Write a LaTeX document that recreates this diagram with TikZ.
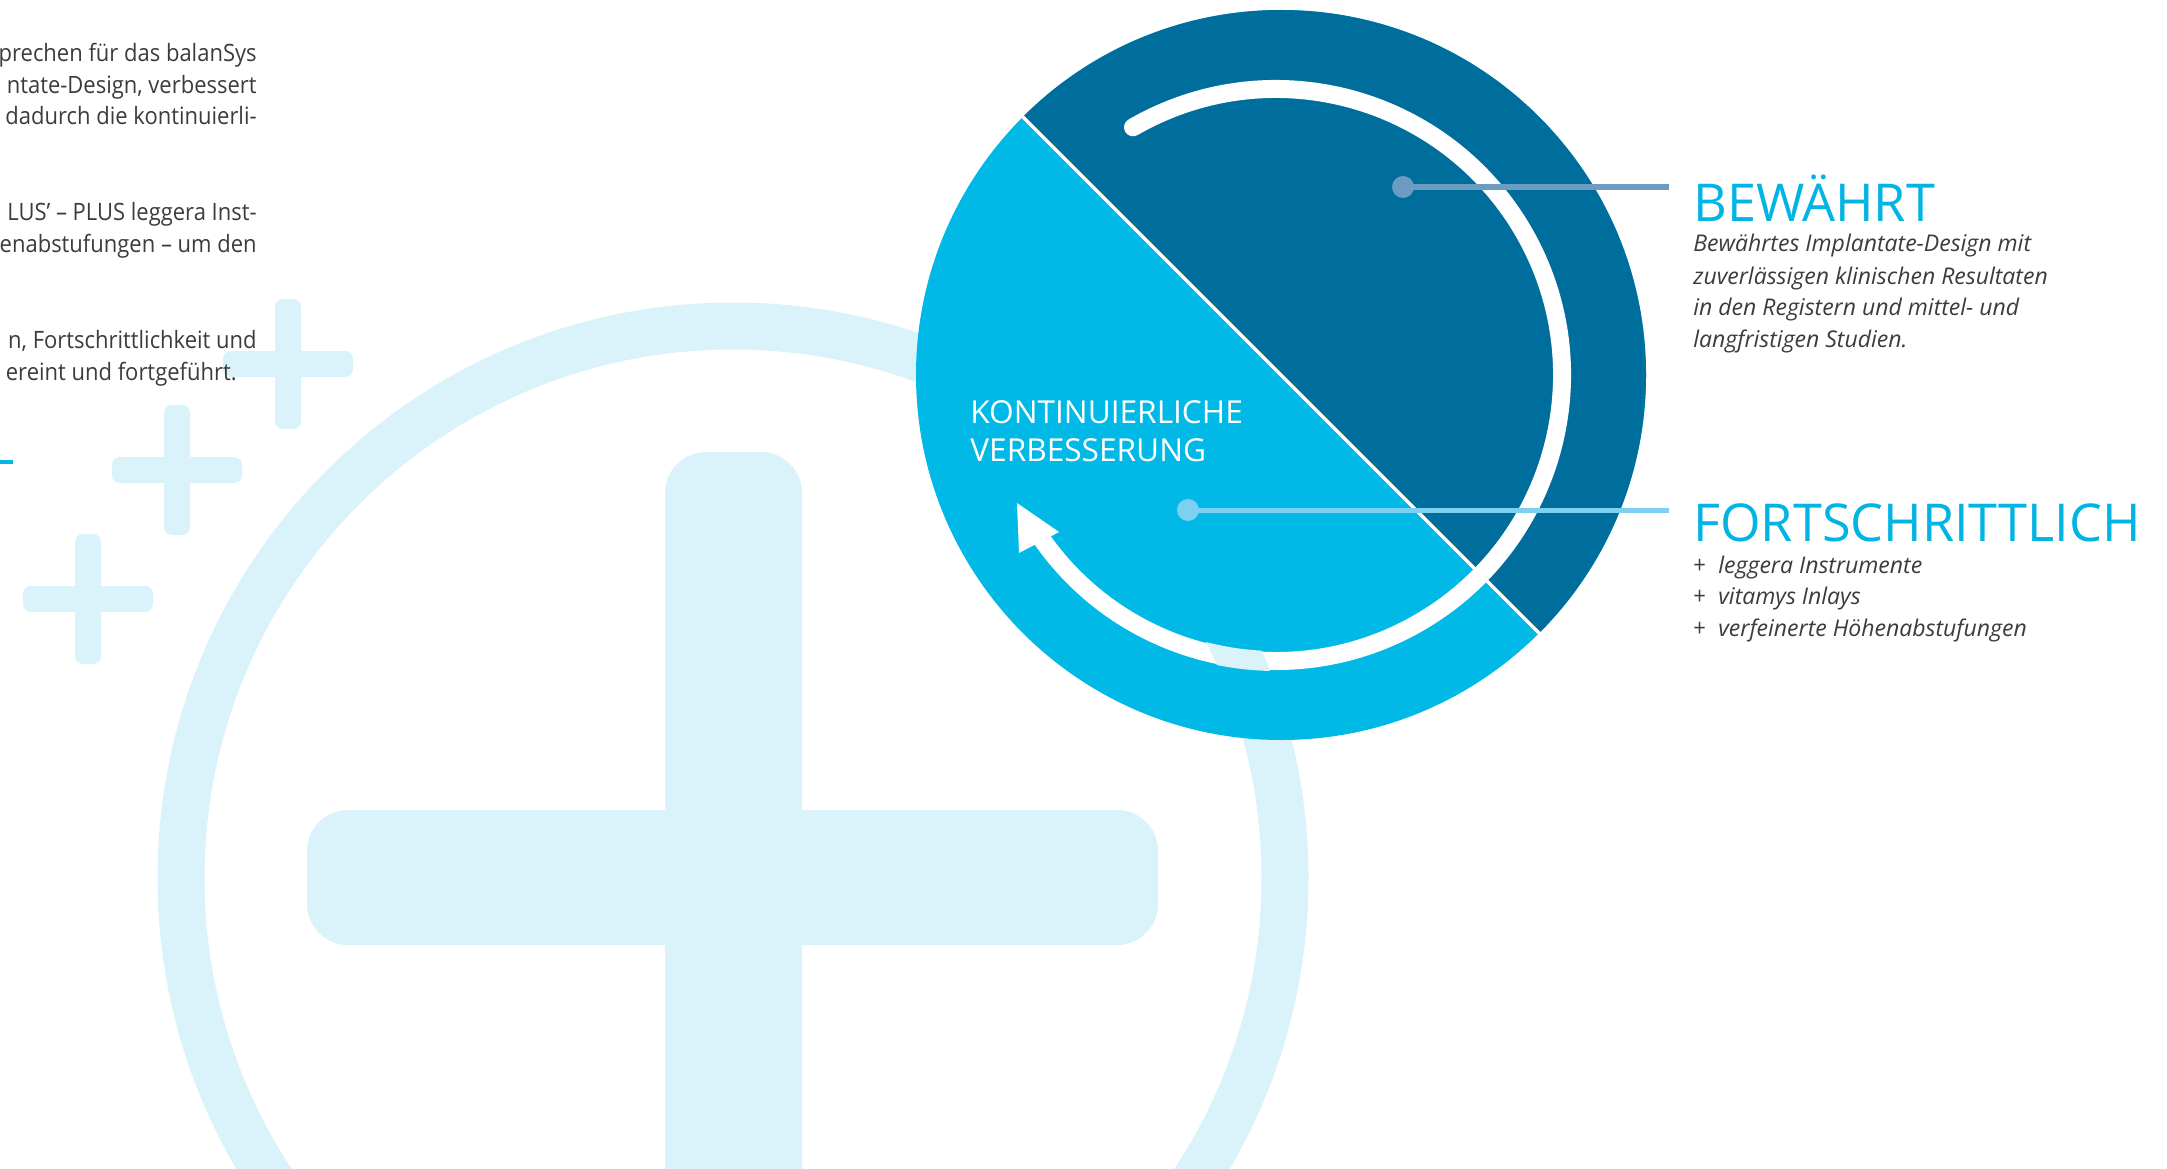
\documentclass[tikz,border=0pt]{standalone}
\usepackage{fontspec}
\setmainfont{Open Sans}
\newfontfamily\narrowfont{Open Sans}[FakeStretch=0.92]
\usetikzlibrary{calc}

\definecolor{darkblue}{HTML}{006E9D}
\definecolor{cyanblue}{HTML}{00B9E6}
\definecolor{paleblue}{HTML}{DAF2FA}
\definecolor{titleblue}{HTML}{00B4E4}
\definecolor{dotdark}{HTML}{6D9CC3}
\definecolor{dotlight}{HTML}{7DD0F0}
\definecolor{textgray}{HTML}{3C3C3C}

\begin{document}
\begin{tikzpicture}[x=0.02cm, y=0.02cm,
	body_text/.style={anchor=base east, inner sep=0pt, text=textgray, font=\narrowfont\fontsize{13.6}{18}\selectfont},
	info_text/.style={anchor=base west, inner sep=0pt, text=textgray, font=\fontsize{13.1}{18}\selectfont\itshape},
	title_node/.style={anchor=base west, inner sep=0pt, text=titleblue, font=\fontsize{29.7}{36}\selectfont},
	label_node/.style={anchor=base west, inner sep=0pt, text=white, font=\fontsize{18}{22}\selectfont},
	dot_node/.style={circle, inner sep=0pt, minimum size=0.44cm},
	bg_bar/.style={fill=paleblue, rounded corners=0.16cm}]
	\useasboundingbox[fill=white] (0,0) rectangle (2167,-1169);
	
	% background plus signs and ring
	\foreach \cx/\cy in {288/364, 177/470, 88/599}{
		\fill[bg_bar] (\cx-13,-\cy+65) rectangle (\cx+13,-\cy-65);
		\fill[bg_bar] (\cx-65,-\cy+13) rectangle (\cx+65,-\cy-13);
	}
	\coordinate (bg) at (733,-878);
	\draw[paleblue, line width=0.94cm] (bg) circle[radius=552];
	\fill[paleblue, rounded corners=0.82cm] (307,-810) rectangle (1158,-945);
	\fill[paleblue, rounded corners=0.82cm] (665,-452) rectangle (802,-1320);
	
	% big circle, two halves
	\coordinate (c) at (1281,-375);
	\fill[cyanblue] (c) circle[radius=365];
	\fill[darkblue] (c) -- +(135:365) arc[start angle=135, end angle=-45, radius=365] -- cycle;
	\draw[white, line width=0.07cm] (c) +(135:367) -- +(-45:367);
	
	% cycle arrow
	\coordinate (a) at (1276,-375);
	\draw[white, line width=0.36cm, line cap=round] (a) +(120:286) arc[start angle=120, end angle=-145, radius=286];
	\fill[white] (1017,-503) -- (1019,-553) -- (1059,-532) -- cycle;
	\begin{scope}
		\clip ($(a)+(-75:296)$) arc[start angle=-75, end angle=-110, radius=296]
			-- ($(a)+(-110:276)$) arc[start angle=-110, end angle=-75, radius=276] -- cycle;
		\draw[paleblue, line width=0.94cm] (bg) circle[radius=552];
	\end{scope}
	
	\node[label_node] (kv1) at (970,-423) {KONTINUIERLICHE};
	\node[label_node] (kv2) at (970,-461) {VERBESSERUNG};
	
	% connectors
	\coordinate (end_b) at (1669,-187);
	\coordinate (end_f) at (1669,-510);
	\node[dot_node, fill=dotdark] (dot_b) at (1403,-187) {};
	\node[dot_node, fill=dotlight] (dot_f) at (1188,-510) {};
	\draw[dotdark, line width=0.12cm] (dot_b.center) -- (end_b);
	\draw[dotlight, line width=0.1cm] (dot_f.center) -- (end_f);
	
	% right texts
	\node[title_node] (bewaehrt) at (1693,-222) {BEWÄHRT};
	\node[title_node] (fortschritt) at (1693,-541) {FORTSCHRITTLICH};
	\foreach \y/\txt [count=\i] in {252/Bewährtes Implantate-Design mit, 284/zuverlässigen klinischen Resultaten, 315.5/in den Registern und mittel- und, 347/langfristigen Studien.}
		\node[info_text] (info\i) at (1693,-\y) {\txt};
	\foreach \y/\txt [count=\i] in {573/leggera Instrumente, 604.5/vitamys Inlays, 636/verfeinerte Höhenabstufungen}{
		\node[body_text, anchor=base west] (plus\i) at (1693,-\y) {+};
		\node[info_text] (item\i) at (1718,-\y) {\txt};
	}
	
	% left text, cut at the page edge
	\foreach \y/\txt [count=\i] in {62/prechen für das balanSys, 93.5/{ntate-Design, verbessert}, 125/dadurch die kontinuierli-, 221/LUS’ – PLUS leggera Inst-, 253/enabstufungen – um den, 348/{n, Fortschrittlichkeit und}}
		\node[body_text] (left\i) at (257,-\y) {\txt};
	\node[body_text] (left7) at (237,-380) {ereint und fortgeführt.};
	\draw[cyanblue, line width=0.08cm] (0,-462) -- (13,-462);
\end{tikzpicture}
\end{document}
